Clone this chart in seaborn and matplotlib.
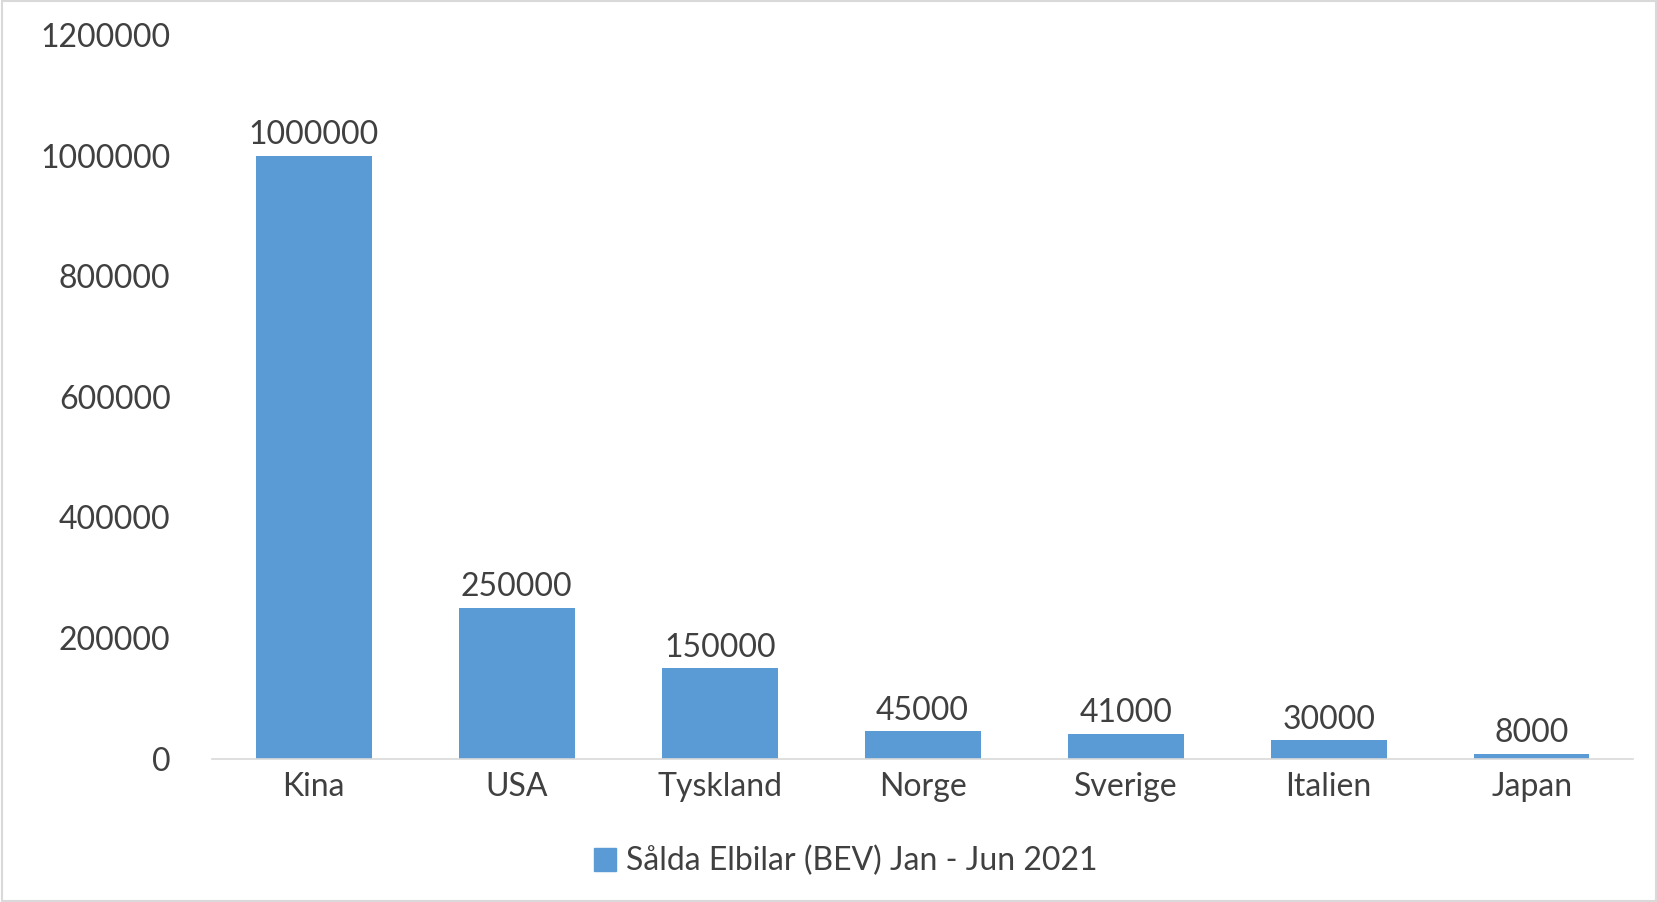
import matplotlib
matplotlib.use("Agg")
import matplotlib.pyplot as plt
import seaborn as sns
import pandas as pd
from matplotlib.patches import Rectangle

countries = ["Kina", "USA", "Tyskland", "Norge", "Sverige", "Italien", "Japan"]
sales = [1000000, 250000, 150000, 45000, 41000, 30000, 8000]
yticks = [0, 200000, 400000, 600000, 800000, 1000000, 1200000]
series_name = "Sålda Elbilar (BEV) Jan - Jun 2021"

df = pd.DataFrame({"Land": countries, "Antal": sales})

plt.rcParams["font.family"] = "Lato"
txt = "#404040"
blue = "#5B9BD5"

fig = plt.figure(figsize=(16.58, 9.02), dpi=100)
ax = fig.add_axes([0.128, 0.159, 0.857, 0.802])
sns.barplot(data=df, x="Land", y="Antal", color=blue, width=0.57, ax=ax, saturation=1)
ax.set_ylim(0, 1200000)
ax.set_xlim(-0.5, len(countries) - 0.5)
ax.set_yticks(yticks)
ax.set_yticklabels([str(v) for v in yticks])
ax.set_xlabel("")
ax.set_ylabel("")
for s in ["top", "right", "left"]:
    ax.spines[s].set_visible(False)
ax.spines["bottom"].set_color("#D9D9D9")
ax.spines["bottom"].set_linewidth(1.2)
ax.tick_params(axis="both", length=0, colors=txt, labelsize=23)
ax.tick_params(axis="y", pad=30)
ax.tick_params(axis="x", pad=10)
for c in ax.containers:
    ax.bar_label(c, labels=[str(v) for v in sales], fontsize=23, color=txt, padding=4)

fig.legend(handles=[Rectangle((0, 0), 1, 1, color=blue)], labels=[series_name],
           loc="center", bbox_to_anchor=(0.51, 0.045), frameon=False,
           fontsize=23, labelcolor=txt, handlelength=0.7, handleheight=0.7, handletextpad=0.3)
fig.patches.append(Rectangle((0.001, 0.001), 0.998, 0.998, transform=fig.transFigure,
                             fill=False, edgecolor="#D9D9D9", linewidth=1.5))
fig.savefig("out.png", dpi=100)
